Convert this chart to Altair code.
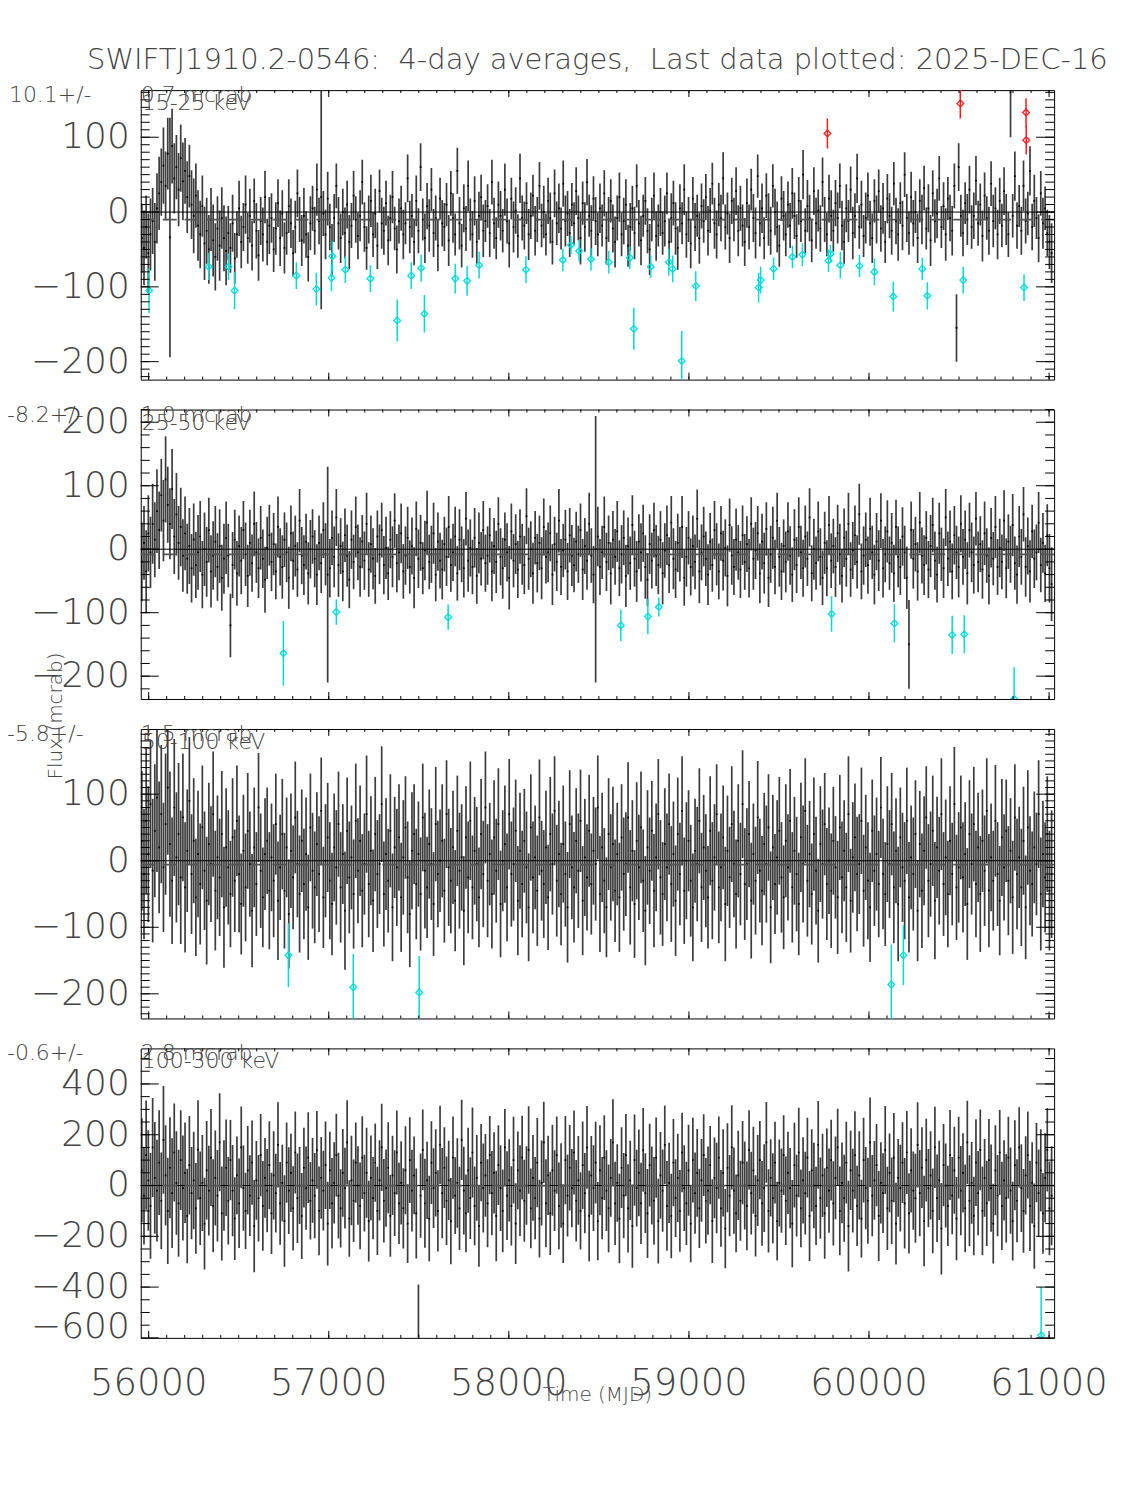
import altair as alt
import pandas as pd

# ---------------- data ----------------
T0, STEP = 55962, 12  # bin grid (MJD)

P1_VAL = [
 -35,-48,-20,-55,-30,-12,-40,5,25,40,62,35,78,-34,88,45,60,30,72,41,
 55,20,48,10,-5,22,-18,-30,8,-42,-25,-50,-10,-38,-60,-22,-45,-8,-35,-52,
 -28,-48,-15,-62,-30,5,-40,-20,10,-35,-5,-45,15,-25,-58,-12,-30,20,-40,-18,
 -8,-50,-22,12,-35,-2,-48,-28,8,-15,-55,-20,25,-10,-38,-5,-30,-60,-15,5,
 -25,30,-12,20,-2,-30,18,-20,-50,-8,35,-15,-35,0,-28,10,-40,-18,22,-10,
 -32,-5,40,-20,-48,-10,15,-30,-2,-45,28,-15,-25,12,-38,-8,20,-22,-50,-12,
 5,-30,-15,45,-20,-5,-40,15,-25,60,-10,-35,8,-18,30,-28,-8,-45,18,-15,
 -20,10,-38,25,-8,-30,55,-15,-45,5,-22,35,-10,-30,15,-40,-5,20,-25,-12,
 8,-28,40,-15,-35,10,-5,-25,30,-12,-42,18,-20,2,-32,45,-8,-18,12,-30,
 -5,22,-25,-10,35,-18,0,-30,15,-8,-40,25,-15,5,-22,38,-12,-2,-28,10,
 -15,28,-8,-35,12,-20,40,-5,-25,18,-12,-30,5,-18,25,-35,-10,15,-22,-40,
 -8,20,-30,-12,10,-45,-20,5,-28,35,-15,-38,-5,15,-25,-50,-10,22,-32,-18,
 0,-28,-12,25,-40,-8,12,-22,-48,5,-15,30,-30,-10,-42,18,-20,-5,-35,8,
 -12,20,-25,2,38,-15,-30,10,-8,45,-20,-2,-35,15,-10,28,-25,5,-18,-40,
 12,-20,30,-8,-28,48,-15,5,-35,22,-10,-25,35,0,-20,-45,18,-5,-30,10,
 -18,25,-5,-32,15,-12,50,-25,8,-8,-38,28,-15,2,-22,40,-10,-30,18,-5,
 -25,12,-8,35,-18,-40,5,-12,30,-28,-5,45,-20,10,-32,-8,22,-15,-35,15,
 -10,28,-22,5,-40,18,-5,-25,38,-12,-30,12,-18,50,-8,-28,20,-15,0,-35,
 15,-10,32,-22,5,-38,25,-12,-2,45,-20,8,-30,18,-8,-25,35,-155,60,-5,
 -28,12,-10,30,-20,-5,42,-15,10,-32,22,-8,-25,38,-12,5,-30,15,-18,28,
 -10,-30,160,-5,48,-18,8,-25,35,-12,-2,55,-20,15,-8,-35,25,-15,5,-28,
 -40,-55]
P1_ERR = [
 46,50,42,53,48,44,52,47,49,45,51,46,48,160,50,47,43,49,45,52,
 44,48,42,46,50,43,47,45,41,49,44,46,42,48,45,43,47,41,44,46,
 36,33,38,34,31,37,35,32,39,34,36,33,30,37,34,32,36,35,31,38,
 33,30,35,32,37,31,34,29,36,33,31,35,32,30,34,37,31,33,36,30,
 32,35,31,150,30,33,36,31,34,32,30,35,33,31,34,32,36,30,33,31,
 31,34,30,33,29,32,35,30,33,31,29,34,32,30,33,31,35,29,32,30,
 30,33,28,32,35,29,31,34,30,32,28,33,31,35,29,32,30,34,28,31,
 32,29,34,30,33,28,31,35,29,32,30,34,28,31,33,29,32,30,35,28,
 29,32,30,34,28,31,33,29,35,30,32,28,34,31,29,33,30,32,28,34,
 31,28,33,30,32,29,35,28,31,34,30,32,29,33,28,31,34,30,32,29,
 28,32,30,35,29,33,31,28,34,30,32,29,33,28,31,35,30,29,32,34,
 30,33,29,31,34,28,32,30,35,29,31,33,28,32,30,34,29,31,33,28,
 32,29,34,28,31,33,30,35,29,32,28,34,31,30,33,29,32,28,34,30,
 29,31,33,30,28,34,32,29,31,35,30,28,33,31,29,32,34,30,28,32,
 33,30,28,32,34,29,31,33,28,30,35,32,29,31,34,28,30,33,29,31,
 30,34,31,29,32,28,33,30,35,31,29,32,34,28,31,33,30,29,32,34,
 28,31,34,30,33,29,32,28,31,35,30,33,29,32,28,34,31,30,33,29,
 32,29,31,34,28,33,30,32,29,31,35,28,33,30,32,29,34,31,28,33,
 29,33,30,28,32,34,31,29,33,30,28,32,35,29,31,33,30,45,32,28,
 31,28,34,32,29,31,33,30,28,34,31,29,32,30,35,28,33,31,29,32,
 34,30,60,29,33,31,28,32,34,30,29,33,31,35,28,32,30,34,29,31,
 36,40]

P2_VAL = [
 -20,10,-35,25,-5,40,15,60,30,85,45,110,70,40,95,20,55,10,35,-10,
 25,-15,5,-30,15,-25,-5,20,-40,0,-20,30,-35,-10,12,-28,5,-45,-15,18,
 -10,-120,-25,15,-38,5,-18,30,-8,-42,10,-22,40,-5,-30,18,-15,-48,2,22,
 -20,8,-35,35,-12,-28,15,-5,-45,25,-18,5,-32,45,-10,-25,12,-38,0,20,
 -15,-40,10,-22,30,-8,-40,-30,18,-12,50,-25,5,-35,22,-10,-48,15,-20,35,
 -5,-28,12,-18,40,-32,8,-15,-42,20,-8,30,-25,2,-38,15,-12,45,-22,-5,
 25,-35,-10,18,-28,5,-45,32,-15,10,-30,-2,42,-20,-8,25,-40,12,-18,-32,
 8,-12,35,-25,-5,20,-38,15,-8,-30,48,-18,2,-28,18,-42,10,-15,30,-22,
 -10,22,-35,5,-20,40,-12,-30,15,-5,-45,28,-18,8,-32,20,-8,-25,52,-15,
 0,-38,18,-22,10,-30,35,-12,-5,25,-40,8,-20,45,-28,-2,15,-35,22,-10,
 -25,12,-8,30,-32,5,-18,40,-10,-40,0,20,-28,-5,35,-20,10,-38,15,-12,
 28,-30,-8,18,-42,5,-22,38,-15,-35,12,-5,25,-28,-48,8,-18,30,-10,-25,
 15,-38,-2,22,-25,42,-15,-32,10,-8,35,-45,-12,18,-28,5,-20,48,-35,-5,
 20,-15,-40,12,-25,30,-8,-35,25,-18,2,-42,38,-10,-28,15,-5,-32,22,-20,
 8,-30,40,-15,-2,25,-38,12,-22,32,-45,-8,18,-28,45,-12,-35,5,-20,28,
 -10,-40,15,-25,35,-5,-30,20,-15,50,-38,0,-22,28,-12,-45,10,-30,38,-18,
 5,-28,25,-8,-42,18,-15,40,-32,-2,22,-20,55,-35,-10,15,-25,32,-5,-40,
 12,-18,45,-30,-8,28,-22,10,-38,35,-12,-28,20,-5,-45,-150,30,-15,8,-35,
 42,-10,-25,18,-32,5,38,-18,-40,25,-8,-30,50,-15,12,-35,22,-5,-28,40,
 -12,15,-38,30,-5,-25,48,-20,8,-32,25,-10,-42,18,-15,35,-28,2,-20,45,
 -30,12,-8,38,-22,-40,20,-12,55,-28,5,-35,28,-15,-5,42,-25,10,-38,22,
 -30,-55]
P2_ERR = [
 62,58,65,60,56,63,59,66,61,57,64,68,60,56,63,59,65,58,62,57,
 58,55,60,54,57,52,59,56,53,58,55,51,57,54,56,53,58,52,55,57,
 50,50,52,47,51,48,53,46,50,49,52,45,51,48,47,50,46,52,49,48,
 46,49,44,48,45,50,43,47,49,44,46,48,43,50,45,47,44,49,46,43,
 45,48,43,47,44,49,170,46,43,48,45,50,44,47,42,49,45,46,43,48,
 44,47,42,46,49,43,45,48,44,41,47,43,46,49,42,45,48,43,46,44,
 47,43,46,49,42,45,48,43,46,44,41,47,50,43,45,48,42,46,44,47,
 43,46,49,42,45,47,43,48,44,46,42,49,45,43,47,44,48,42,46,45,
 46,43,47,44,49,42,45,48,43,46,50,44,42,47,45,43,48,46,44,49,
 44,48,42,46,43,49,45,42,47,44,48,43,46,50,44,42,47,45,43,48,
 43,47,45,42,48,44,46,49,43,45,210,47,44,42,48,46,43,49,45,44,
 48,44,46,43,49,45,42,47,44,48,43,46,45,50,42,47,44,43,48,46,
 45,49,43,47,44,42,48,45,46,43,49,44,47,42,45,48,43,46,50,44,
 47,43,48,45,42,46,49,44,43,47,45,48,42,46,44,49,43,45,47,44,
 44,46,42,49,45,43,47,44,48,42,46,45,49,43,44,47,45,42,48,46,
 46,43,48,44,47,42,45,49,43,46,44,48,42,47,45,43,49,44,46,43,
 43,47,45,48,42,46,44,49,43,45,47,42,48,44,46,43,45,49,42,47,
 45,48,43,46,44,49,42,47,45,43,48,44,46,42,49,70,45,47,43,46,
 48,44,47,42,45,49,43,46,44,48,42,47,45,43,49,44,46,42,48,45,
 44,46,49,43,47,45,42,48,44,46,50,43,45,47,42,49,44,46,43,48,
 47,43,45,49,42,46,48,44,43,47,45,49,42,46,44,48,43,47,45,49,
 54,58]

P3_VAL = [
 30,-20,60,10,85,-15,45,95,20,70,-10,55,110,25,-30,80,5,40,-25,65,
 -40,15,90,-20,30,-55,10,-35,50,-15,-60,25,-5,70,-45,5,-25,40,-70,20,
 -10,-50,35,-30,60,-20,-65,15,-40,45,-5,-75,20,-35,80,-15,-55,10,30,-45,
 5,-30,55,-60,-10,40,-45,20,-80,15,-25,65,-5,-50,30,-35,10,-70,50,-15,
 -40,25,-20,75,-55,0,35,-30,-65,20,-10,55,-40,10,-75,45,-25,5,-50,60,
 -15,30,-45,-5,70,-35,15,-60,40,-20,-5,85,-50,10,-30,45,-70,20,-10,35,
 -55,5,50,-25,-80,15,40,-35,10,-50,65,-15,-40,25,-5,-65,55,-20,0,30,
 -45,70,-10,-30,20,-60,45,-15,5,-75,35,-25,60,-40,15,-5,-55,40,-20,80,
 -30,10,-50,35,-15,55,-65,0,25,-40,70,-20,-5,45,-60,15,-35,30,-10,-70,
 50,-25,5,-45,65,-15,-35,20,-55,40,-5,75,-30,10,-50,25,-20,-70,55,-10,
 -40,30,-15,60,-60,5,-25,45,-35,15,-5,80,-50,20,-30,-70,40,-10,25,-45,
 10,-55,35,-20,-5,65,-40,15,-65,30,-10,50,-30,-75,20,-15,45,-45,5,70,
 -25,-50,25,-10,55,-35,10,-60,40,-20,75,-45,0,30,-30,-70,15,-5,60,-40,
 20,-15,-55,45,-30,5,70,-40,-10,35,-65,15,-25,55,-5,-50,30,-20,85,-35,
 -5,40,-60,10,-30,65,-15,-45,25,-5,50,-70,20,-35,5,45,-25,-55,30,-10,
 60,-40,15,-20,-65,35,-5,75,-30,10,-50,40,-15,-75,25,-5,55,-35,0,-45,
 30,-10,-55,50,-25,15,-40,70,-60,5,35,-20,-5,60,-45,20,-30,-70,45,-15,
 10,-35,80,-20,-50,25,-5,55,-40,15,-65,35,-10,-30,60,-55,5,-20,40,-75,
 25,-45,15,65,-30,-5,45,-60,20,-15,70,-35,5,-50,30,-20,85,-40,-10,50,
 -25,10,-65,40,-5,55,-35,20,-50,30,-15,75,-45,5,-30,60,-20,-60,35,-10,
 45,-30,15,-55,65,-20,5,-40,30,-70,50,-15,-35,20,-5,70,-50,10,-25,40,
 -45,-20]
P3_ERR = [
 105,98,110,102,96,108,100,112,99,104,97,106,101,109,95,103,98,107,100,96,
 98,92,96,90,94,88,95,91,93,89,96,92,87,94,90,93,88,95,91,89,
 86,80,89,77,83,88,76,84,81,87,79,85,90,78,82,86,75,84,80,88,
 81,85,76,89,79,83,87,75,82,86,78,84,80,88,77,83,85,79,81,87,
 84,78,87,80,76,85,82,88,77,81,86,79,83,75,89,80,84,78,82,86,
 79,83,85,76,88,80,82,77,86,81,75,87,79,84,78,85,81,76,88,80,
 82,86,77,84,80,88,75,83,79,85,81,87,76,82,84,78,86,80,77,85,
 78,81,88,79,85,76,83,87,80,82,77,84,89,78,81,86,75,83,80,84,
 85,77,82,86,78,84,80,76,88,81,83,79,85,77,82,87,80,78,84,81,
 80,84,78,83,87,75,81,85,79,86,76,82,84,80,77,88,79,83,81,78,
 83,79,86,77,82,88,80,84,76,81,85,78,87,82,79,75,84,80,86,77,
 77,82,80,85,78,83,86,76,81,88,79,84,77,82,86,80,75,85,81,83,
 86,78,84,81,76,87,79,83,85,77,82,80,88,76,84,81,78,86,79,82,
 79,85,77,82,88,80,75,84,81,78,86,83,76,87,80,82,85,77,81,84,
 84,80,87,76,81,85,78,82,77,88,80,84,79,75,86,81,83,78,85,80,
 78,83,81,86,77,82,88,79,84,80,76,85,81,78,87,82,77,84,80,86,
 81,77,85,79,84,76,82,87,78,83,81,86,75,80,84,79,88,82,77,83,
 85,80,76,83,78,87,81,77,84,79,86,75,82,88,80,83,78,85,81,76,
 80,86,82,77,85,79,83,88,76,81,84,78,87,80,82,77,86,79,83,78,
 83,78,84,81,76,86,80,82,87,77,83,79,85,81,75,84,78,82,88,80,
 77,82,79,85,80,83,76,88,81,78,86,82,79,84,77,81,85,80,83,87,
 90,96]

P4_VAL = [
 60,-40,120,20,-80,150,30,-20,90,-60,180,40,-100,70,-30,130,10,-70,100,-10,
 50,-120,80,-30,20,-90,140,-50,10,-150,60,-20,110,-80,30,-40,170,-110,0,70,
 -60,100,-20,-130,40,-70,150,-10,-100,60,-40,90,-160,20,-50,120,-80,30,-20,80,
 -110,40,-30,160,-70,10,-140,90,-20,50,-90,130,-50,0,-120,70,-10,110,-60,20,
 -40,140,-100,30,-20,80,-150,60,-70,10,120,-40,-90,50,-10,170,-130,20,-60,90,
 0,-80,110,-30,50,-140,30,-50,90,-100,20,150,-60,-10,70,-120,40,-30,130,-70,
 10,-90,60,-150,100,-20,40,-110,-650,-40,140,-70,20,-130,90,-10,50,-100,160,-30,
 70,-60,20,-140,110,-40,10,-90,180,-20,-110,60,-50,130,-80,30,-160,90,-10,40,
 -70,120,-30,50,-120,80,-10,-100,150,-40,20,-80,100,-150,60,-20,110,-60,0,140,
 -90,30,-50,90,-130,10,170,-70,40,-110,60,-20,120,-80,0,-150,100,-40,70,-10,
 130,-60,20,-100,80,-30,150,-120,40,-10,90,-140,60,-50,110,-20,-90,30,170,-70,
 10,-130,70,-40,120,-90,20,-160,100,-10,50,-70,140,-30,-110,80,0,-60,110,-140,
 40,-20,160,-80,10,-120,90,-50,30,-100,130,-10,-70,60,-150,100,-30,50,-90,20,
 120,-60,-20,80,-140,30,-10,110,-90,50,-170,70,-40,150,-20,-110,40,-60,90,0,
 -80,140,-30,60,-120,20,100,-70,-10,170,-100,30,-50,90,-140,10,-20,120,-60,50,
 -10,-150,80,-40,130,-90,20,-30,110,-120,60,0,-80,160,-50,40,-110,70,-20,100,
 -70,30,150,-100,10,-50,90,-160,60,-20,120,-80,40,-130,100,-10,-60,170,-40,20,
 80,-120,10,-30,140,-90,50,-60,110,-150,30,-10,90,-70,130,-110,60,-20,-50,160,
 -30,70,-140,100,-10,40,-100,150,-50,20,-170,80,0,-80,120,-40,60,-130,110,-20,
 50,-90,170,-60,10,-120,90,-30,140,-100,30,-70,100,-10,-150,60,-40,130,-80,20,
 -50,110,-20,-140,80,-60,150,-10,-100,40,120,-80,10,-160,90,-30,60,-110,30,140,
 -90,-40]
P4_ERR = [
 205,192,215,198,208,195,220,200,206,190,212,197,209,199,216,193,204,211,196,207,
 198,186,194,182,192,179,196,184,189,181,194,177,191,183,187,180,193,185,178,190,
 172,158,180,163,153,176,161,168,150,174,159,166,182,155,170,162,177,157,164,173,
 160,174,155,168,163,151,180,158,171,154,166,161,176,152,169,157,164,179,153,167,
 168,153,175,161,157,172,165,152,178,160,163,169,154,173,159,166,151,176,162,158,
 155,171,163,151,177,159,167,162,154,174,158,172,164,152,179,161,156,169,165,160,
 164,158,173,155,169,161,153,177,260,166,159,175,152,168,163,157,172,160,154,178,
 159,174,156,170,162,151,176,164,158,173,153,167,161,177,155,169,160,152,175,163,
 173,154,166,160,178,157,169,163,151,175,162,156,171,159,153,179,165,161,155,172,
 157,169,162,176,153,167,160,173,156,164,179,159,152,171,166,155,174,161,168,154,
 165,160,175,152,172,158,163,178,155,169,161,154,177,162,167,159,173,153,170,164,
 153,176,159,168,162,174,156,164,180,151,171,160,165,157,175,163,154,172,158,167,
 171,162,155,177,158,166,172,153,174,161,157,169,164,179,152,167,160,173,156,163,
 161,168,174,154,165,159,178,162,151,172,156,175,160,166,170,153,176,158,164,173,
 175,156,163,171,160,179,154,167,173,159,164,152,177,161,155,171,166,157,174,162,
 158,172,167,161,176,153,170,163,157,177,162,168,154,173,160,164,178,155,166,159,
 166,163,152,175,159,171,161,179,156,165,172,158,174,153,167,162,169,177,160,155,
 162,177,160,157,173,164,155,170,176,161,153,171,159,178,163,158,166,154,175,168,
 170,159,178,163,154,174,167,160,172,156,180,162,165,158,177,152,171,164,161,176,
 156,173,164,179,161,155,171,166,159,175,153,168,162,172,157,177,160,167,174,158,
 174,161,170,155,177,163,158,173,165,154,171,178,160,168,156,172,162,159,176,164,
 185,195]

# significant points (cyan: low, red: high)
P1_CYAN_T = [56002,56333,56443,56477,56820,56931,57015,57020,57092,57231,57380,57458,57513,57531,
             57702,57768,57835,58095,58300,58345,58390,58456,58555,58672,58694,58788,58888,58910,
             58960,59038,59387,59398,59470,59575,59630,59775,59786,59841,59947,60030,60135,60296,
             60324,60523,60861]
P1_CYAN_V = [-105,-73,-73,-105,-85,-103,-88,-59,-77,-89,-145,-85,-75,-136,
             -89,-92,-71,-77,-64,-44,-52,-63,-67,-61,-156,-73,-67,-76,
             -199,-99,-101,-91,-76,-60,-57,-65,-56,-71,-72,-80,-113,-76,
             -112,-91,-101]
P1_CYAN_E = [30,18,18,25,18,22,18,20,18,18,28,18,18,25,
             20,20,18,18,15,12,14,15,15,15,28,15,18,18,
             40,20,20,18,15,15,15,15,12,18,15,18,20,15,
             18,18,18]
P1_RED_T = [59769, 60507, 60872, 60873]
P1_RED_V = [105, 145, 133, 96]
P1_RED_E = [20, 20, 19, 19]

P2_CYAN_T = [56748,57042,57663,58622,58772,58833,59792,60141,60462,60529,60806]
P2_CYAN_V = [-164,-99,-107,-120,-106,-91,-102,-117,-135,-134,-236]
P2_CYAN_E = [51,20,20,25,28,15,28,30,30,30,50]

P3_CYAN_T = [56776,57136,57502,60124,60191]
P3_CYAN_V = [-142,-190,-198,-186,-142]
P3_CYAN_E = [48,50,55,60,45]

P4_CYAN_T = [60956]
P4_CYAN_V = [-590]
P4_CYAN_E = [190]

TITLE = "SWIFTJ1910.2-0546: \u00a04-day averages, \u00a0Last data plotted: 2025-DEC-16"
X_TICKS = [56000, 57000, 58000, 59000, 60000, 61000]

# ---------------- chart ----------------
N = len(P1_VAL)
T = [T0 + STEP * i for i in range(N)]

W, H = 915, 290
XDOM = [55956, 61028]
XS = alt.Scale(domain=XDOM, nice=False, zero=False)
FONT = "DejaVu Sans"
LC = "#444444"


def fmt(v):
    return str(v).replace("-", "\u2212")


def txt(s, x, y, size, align="left", angle=0, baseline="middle", color=LC, weight=300):
    return alt.Chart(pd.DataFrame({"s": [s]})).mark_text(
        align=align, baseline=baseline, fontSize=size, font=FONT, color=color, angle=angle,
        fontWeight=weight
    ).encode(text="s:N", x=alt.value(x), y=alt.value(y))


def flagged(ts, vs, es, ys, color):
    df = pd.DataFrame({"t": ts, "v": vs, "e": es})
    df["lo"] = df["v"] - df["e"]
    df["hi"] = df["v"] + df["e"]
    base = alt.Chart(df)
    r = base.mark_rule(clip=True, color=color, strokeWidth=1.5).encode(
        x=alt.X("t:Q", scale=XS, axis=None),
        y=alt.Y("lo:Q", scale=ys, axis=None), y2="hi:Q")
    p = base.mark_point(clip=True, shape="diamond", filled=False, color=color, size=45,
                        strokeWidth=1.3, opacity=1).encode(
        x=alt.X("t:Q", scale=XS, axis=None),
        y=alt.Y("v:Q", scale=ys, axis=None))
    return [r, p]


def panel(vals, errs, mean, mtxt, mx, etxt, band, ydom, major, minor_step,
          cyan, red=None, show_x=False, flush_low=False, extra=()):
    ys = alt.Scale(domain=ydom, nice=False, zero=False)
    df = pd.DataFrame({"t": T, "v": vals, "e": errs})
    df["lo"] = df["v"] - df["e"]
    df["hi"] = df["v"] + df["e"]
    base = alt.Chart(df)
    bars = base.mark_rule(clip=True, color="#111111", strokeWidth=1.7, opacity=0.82).encode(
        x=alt.X("t:Q", scale=XS, axis=None),
        y=alt.Y("lo:Q", scale=ys, axis=None), y2="hi:Q")
    dots = base.mark_square(clip=True, size=3, color="black", opacity=1).encode(
        x=alt.X("t:Q", scale=XS, axis=None),
        y=alt.Y("v:Q", scale=ys, axis=None))

    def hline(v, color, width, dash=None):
        kw = dict(color=color, strokeWidth=width)
        if dash:
            kw["strokeDash"] = dash
        return alt.Chart(pd.DataFrame({"y": [v]})).mark_rule(**kw).encode(
            y=alt.Y("y:Q", scale=ys, axis=None), x=alt.value(0), x2=alt.value(W))

    lo_t = (int(ydom[0] // minor_step) + 1) * minor_step
    minor = [v for v in range(lo_t, int(ydom[1]) + 1, minor_step)]

    def yticks(values, x1, x2):
        return alt.Chart(pd.DataFrame({"y": values})).mark_rule(color="black", strokeWidth=1).encode(
            y=alt.Y("y:Q", scale=ys, axis=None), x=alt.value(x1), x2=alt.value(x2))

    xminor = list(range(56000, 61028, 100))

    def xticks(values, y1, y2):
        return alt.Chart(pd.DataFrame({"x": values})).mark_rule(color="black", strokeWidth=1).encode(
            x=alt.X("x:Q", scale=XS, axis=None), y=alt.value(y1), y2=alt.value(y2))

    def ylabels(values, dy=0):
        d = pd.DataFrame({"y": values, "s": [fmt(v) for v in values]})
        return alt.Chart(d).mark_text(align="right", baseline="middle", fontSize=36, font=FONT,
                                      color=LC, dy=dy, fontWeight=300).encode(
            y=alt.Y("y:Q", scale=ys, axis=None), x=alt.value(-11), text="s:N")

    layers = [bars, dots]
    layers += flagged(*cyan, ys, "#00dcdc")
    if red:
        layers += flagged(*red, ys, "#ff1a1a")
    layers += [
        hline(0, "black", 1),
        hline(mean, "#555555", 1.6, [14, 8]),
        yticks(minor, 0, 9), yticks(major, 0, 18),
        yticks(minor, W, W - 9), yticks(major, W, W - 18),
        xticks(xminor, 0, 3), xticks(X_TICKS, 0, 7),
        xticks(xminor, H, H - 3), xticks(X_TICKS, H, H - 7),
    ]
    if flush_low:
        layers += [ylabels(major[1:]), ylabels(major[:1], dy=-11)]
    else:
        layers += [ylabels(major)]
    if show_x:
        xd = pd.DataFrame({"x": X_TICKS, "s": [str(v) for v in X_TICKS]})
        layers.append(alt.Chart(xd).mark_text(align="center", baseline="middle", fontSize=37,
                                              font=FONT, color=LC, fontWeight=300).encode(
            x=alt.X("x:Q", scale=XS, axis=None), y=alt.value(H + 46), text="s:N"))
    layers += [
        txt(mtxt, mx, 5, 22),
        txt(etxt, 0, 5, 22),
        txt(band, 1, 13, 22),
    ]
    layers += list(extra)
    return alt.layer(*layers).properties(width=W, height=H)


p1 = panel(P1_VAL, P1_ERR, -10.1, "-10.1+/-", -140, "0.7 mcrab", "15-25 keV",
           [-224, 163], [-200, -100, 0, 100], 10,
           (P1_CYAN_T, P1_CYAN_V, P1_CYAN_E), (P1_RED_T, P1_RED_V, P1_RED_E),
           extra=[txt(TITLE, W / 2, -30, 29, align="center")])
p2 = panel(P2_VAL, P2_ERR, -8.2, "-8.2+/-", -134, "1.0 mcrab", "25-50 keV",
           [-236, 220], [-200, -100, 0, 100, 200], 20,
           (P2_CYAN_T, P2_CYAN_V, P2_CYAN_E))
p3 = panel(P3_VAL, P3_ERR, -5.8, "-5.8+/-", -134, "1.5 mcrab", "50-100 keV",
           [-237, 198], [-200, -100, 0, 100], 10,
           (P3_CYAN_T, P3_CYAN_V, P3_CYAN_E),
           extra=[txt("Flux (mcrab)", -85, -13, 20, align="center", angle=270)])
p4 = panel(P4_VAL, P4_ERR, -0.6, "-0.6+/-", -134, "2.8 mcrab", "100-300 keV",
           [-600, 540], [-600, -400, -200, 0, 200, 400], 50,
           (P4_CYAN_T, P4_CYAN_V, P4_CYAN_E), show_x=True, flush_low=True,
           extra=[txt("Time (MJD)", W / 2, 347, 20, align="center")])

chart = alt.vconcat(p1, p2, p3, p4, spacing=30, bounds="flush").properties(
    padding={"left": -8, "top": 36, "right": 8, "bottom": 10}
).configure_view(stroke="black", strokeWidth=1)

chart.save("out.html", embed_options={"renderer": "svg", "actions": False})
